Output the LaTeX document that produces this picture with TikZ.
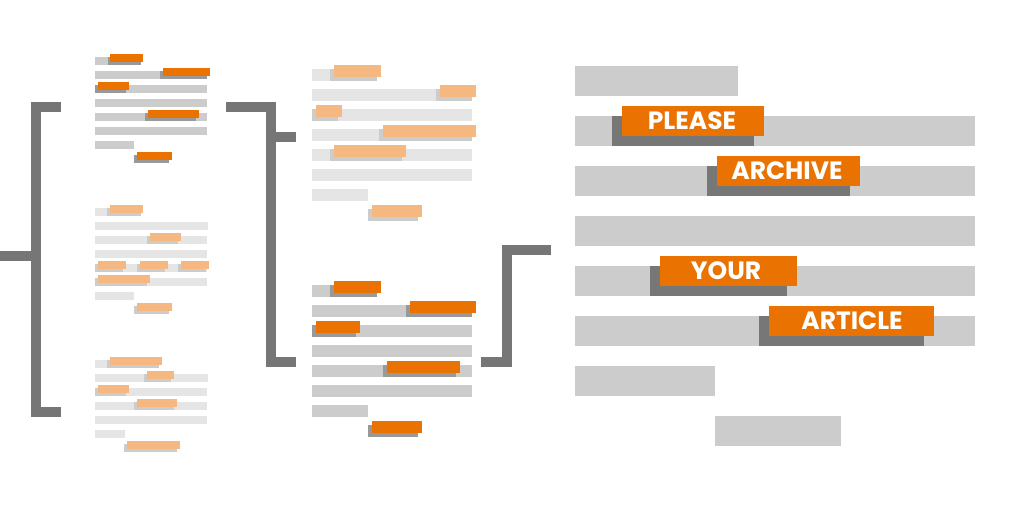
\documentclass[tikz,border=0pt]{standalone}
\usepackage{fontspec}
\newfontfamily\hlfont{Poppins}
\definecolor{barA}{HTML}{CCCCCC}
\definecolor{shA}{HTML}{999999}
\definecolor{orA}{HTML}{EA7200}
\definecolor{barB}{HTML}{E5E5E5}
\definecolor{shB}{HTML}{CCCCCC}
\definecolor{orB}{HTML}{F5B880}
\definecolor{brk}{HTML}{767676}
\definecolor{bigsh}{HTML}{777777}
\tikzset{
  bracket/.style={draw=brk,line width=10pt,line cap=butt,line join=miter},
  word/.style={text=white,font=\hlfont\bfseries\fontsize{25}{25}\selectfont,inner sep=0pt},
}
\begin{document}
\begin{tikzpicture}[x=1pt,y=-1pt]
\useasboundingbox (0,0) rectangle (1024,512);
\fill[white] (0,0) rectangle (1024,512);

% ---------- brackets ----------
\draw[bracket] (61,107) -- (36,107) -- (36,412) -- (61,412);
\draw[bracket] (0,256) -- (36,256);
\draw[bracket] (226,107) -- (271,107) -- (271,362) -- (296,362);
\draw[bracket] (271,137) -- (296,137);
\draw[bracket] (481,362) -- (507,362) -- (507,250) -- (551,250);

% ---------- document 1 (top left) ----------
\fill[barA] (95,57) rectangle (110,65);
\fill[barA] (95,71) rectangle (207,79);
\fill[barA] (95,85) rectangle (207,93);
\fill[barA] (95,99) rectangle (207,107);
\fill[barA] (95,113) rectangle (207,121);
\fill[barA] (95,127) rectangle (207,135);
\fill[barA] (95,141) rectangle (134,149);
\fill[shA] (108,57) rectangle (141,65);   \fill[orA] (110,54) rectangle (143,62);
\fill[shA] (160,71) rectangle (207,79);   \fill[orA] (163,68) rectangle (210,76);
\fill[shA] (95,85) rectangle (126,93);    \fill[orA] (98,82) rectangle (129,90);
\fill[shA] (145,113) rectangle (196,121); \fill[orA] (148,110) rectangle (199,118);
\fill[shA] (134,155) rectangle (169,163); \fill[orA] (137,152) rectangle (172,160);

% ---------- document 2 (middle left) ----------
\fill[barB] (95,208) rectangle (110,216);
\fill[barB] (95,222) rectangle (208,230);
\fill[barB] (95,236) rectangle (207,244);
\fill[barB] (95,250) rectangle (207,258);
\fill[barB] (95,264) rectangle (207,272);
\fill[barB] (95,278) rectangle (207,286);
\fill[barB] (95,292) rectangle (134,300);
\fill[shB] (107,208) rectangle (141,216); \fill[orB] (110,205) rectangle (143,213);
\fill[shB] (147,236) rectangle (178,244); \fill[orB] (150,233) rectangle (181,241);
\fill[shB] (95,264) rectangle (123,272);  \fill[orB] (98,261) rectangle (126,269);
\fill[shB] (137,264) rectangle (165,272); \fill[orB] (140,261) rectangle (168,269);
\fill[shB] (178,264) rectangle (206,272); \fill[orB] (181,261) rectangle (209,269);
\fill[shB] (95,278) rectangle (147,286);  \fill[orB] (98,275) rectangle (150,283);
\fill[shB] (134,306) rectangle (169,314); \fill[orB] (137,303) rectangle (172,311);

% ---------- document 3 (bottom left) ----------
\fill[barB] (95,360) rectangle (110,368);
\fill[barB] (95,374) rectangle (208,382);
\fill[barB] (95,388) rectangle (207,396);
\fill[barB] (95,402) rectangle (207,410);
\fill[barB] (95,416) rectangle (207,424);
\fill[barB] (95,430) rectangle (125,438);
\fill[shB] (107,360) rectangle (159,368); \fill[orB] (110,357) rectangle (162,365);
\fill[shB] (144,374) rectangle (171,382); \fill[orB] (147,371) rectangle (174,379);
\fill[shB] (95,388) rectangle (126,396);  \fill[orB] (98,385) rectangle (129,393);
\fill[shB] (134,402) rectangle (174,410); \fill[orB] (137,399) rectangle (177,407);
\fill[shB] (124,444) rectangle (177,452); \fill[orB] (127,441) rectangle (180,449);

% ---------- document 4 (top middle) ----------
\fill[barB] (312,69) rectangle (334,81);
\fill[barB] (312,89) rectangle (472,101);
\fill[barB] (312,109) rectangle (472,121);
\fill[barB] (312,129) rectangle (472,141);
\fill[barB] (312,149) rectangle (472,161);
\fill[barB] (312,169) rectangle (472,181);
\fill[barB] (312,189) rectangle (368,201);
\fill[shB] (330,69) rectangle (377,81);   \fill[orB] (334,65) rectangle (381,77);
\fill[shB] (436,89) rectangle (472,101);  \fill[orB] (440,85) rectangle (476,97);
\fill[shB] (312,109) rectangle (338,121); \fill[orB] (316,105) rectangle (342,117);
\fill[shB] (379,129) rectangle (472,141); \fill[orB] (383,125) rectangle (476,137);
\fill[shB] (330,149) rectangle (402,161); \fill[orB] (334,145) rectangle (406,157);
\fill[shB] (368,209) rectangle (418,221); \fill[orB] (372,205) rectangle (422,217);

% ---------- document 5 (bottom middle) ----------
\fill[barA] (312,285) rectangle (334,297);
\fill[barA] (312,305) rectangle (472,317);
\fill[barA] (312,325) rectangle (472,337);
\fill[barA] (312,345) rectangle (472,357);
\fill[barA] (312,365) rectangle (472,377);
\fill[barA] (312,385) rectangle (472,397);
\fill[barA] (312,405) rectangle (368,417);
\fill[shA] (330,285) rectangle (377,297); \fill[orA] (334,281) rectangle (381,293);
\fill[shA] (406,305) rectangle (472,317); \fill[orA] (410,301) rectangle (476,313);
\fill[shA] (312,325) rectangle (356,337); \fill[orA] (316,321) rectangle (360,333);
\fill[shA] (383,365) rectangle (456,377); \fill[orA] (387,361) rectangle (460,373);
\fill[shA] (368,425) rectangle (418,437); \fill[orA] (372,421) rectangle (422,433);

% ---------- large document (right) ----------
\fill[barA] (575,66) rectangle (738,96);
\fill[barA] (575,116) rectangle (975,146);
\fill[barA] (575,166) rectangle (975,196);
\fill[barA] (575,216) rectangle (975,246);
\fill[barA] (575,266) rectangle (975,296);
\fill[barA] (575,316) rectangle (975,346);
\fill[barA] (575,366) rectangle (715,396);
\fill[barA] (715,416) rectangle (841,446);

\fill[bigsh] (612,116) rectangle (754,146);
\fill[orA] (622,106) rectangle (764,136);
\node[word] (please) at (692,121) {PLEASE};

\fill[bigsh] (707,166) rectangle (850,196);
\fill[orA] (717,156) rectangle (860,186);
\node[word] (archive) at (787,171) {ARCHIVE};

\fill[bigsh] (650,266) rectangle (787,296);
\fill[orA] (660,256) rectangle (797,286);
\node[word] (your) at (726,271) {YOUR};

\fill[bigsh] (759,316) rectangle (924,346);
\fill[orA] (769,306) rectangle (934,336);
\node[word] (article) at (852,321) {ARTICLE};
\end{tikzpicture}
\end{document}
